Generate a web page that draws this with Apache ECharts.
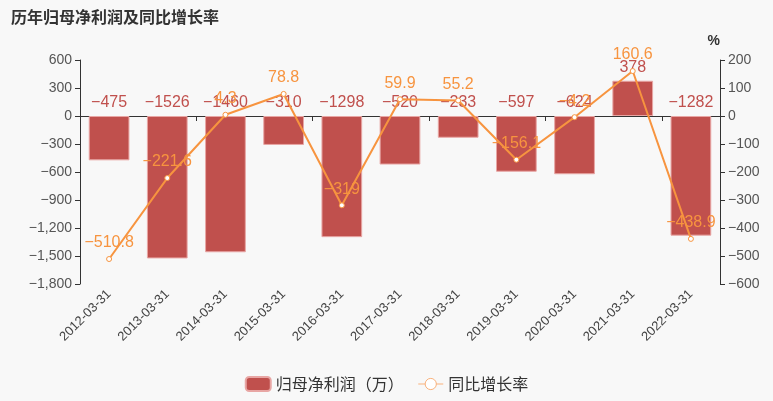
<!DOCTYPE html>
<html>
<head>
<meta charset="utf-8">
<script src="https://cdn.jsdelivr.net/npm/echarts@6/dist/echarts.min.js"></script>
<style>
html, body { margin: 0; padding: 0; background: #f8f8f8; }
#chart { width: 773px; height: 401px; }
</style>
</head>
<body>
<div id="chart"></div>
<script>
var categories = ['2012-03-31', '2013-03-31', '2014-03-31', '2015-03-31', '2016-03-31', '2017-03-31',
		'2018-03-31', '2019-03-31', '2020-03-31', '2021-03-31', '2022-03-31'];
var profitValues = [-475, -1526, -1460, -310, -1298, -520, -233, -597, -624, 378, -1282];
var growthValues = [-510.8, -221.6, 4.3, 78.8, -319, 59.9, 55.2, -156.1, -4.2, 160.6, -438.9];
var leftTicks = { min : -1800, max : 600, interval : 300 };
var rightTicks = { min : -600, max : 200, interval : 100 };

var font = '"Liberation Sans", "Noto Sans CJK SC", sans-serif';

// 负号用 U+2212 显示
function minus(s) {
	return String(s).replace(/-/g, '\u2212');
}
function withCommas(v) {
	return minus(echarts.format.addCommas(v));
}

var option = {
	backgroundColor : '#f8f8f8',
	textStyle : {
		fontFamily : font
	},
	title : {
		text : '历年归母净利润及同比增长率',
		left : 6,
		top : 4,
		textStyle : {
			fontFamily : '"Noto Sans CJK SC", sans-serif',
			fontSize : 16,
			fontWeight : 'bold',
			color : '#333'
		}
	},
	legend : {
		bottom : 4,
		itemWidth : 25,
		itemHeight : 14,
		itemGap : 14,
		textStyle : {
			fontFamily : '"Noto Sans CJK TC", sans-serif',
			fontSize : 16,
			color : '#333'
		},
		data : [ {
			name : '归母净利润（万）',
			icon : 'roundRect'
		}, {
			name : '同比增长率',
			itemStyle : {
				color : '#fff',
				borderColor : '#f9b27c',
				borderWidth : 1
			},
			lineStyle : {
				color : '#f9b27c',
				width : 1
			}
		} ]
	},
	grid : {
		left : 80,
		right : 53,
		top : 60,
		bottom : 117
	},
	xAxis : [ {
		type : 'category',
		data : categories,
		axisLine : {
			show : false
		},
		axisTick : {
			show : false
		},
		axisLabel : {
			rotate : 45,
			interval : 0,
			fontSize : 13,
			color : '#444'
		}
	}, {
		type : 'category',
		data : categories,
		position : 'bottom',
		axisLine : {
			onZero : true,
			lineStyle : {
				color : '#333'
			}
		},
		axisTick : {
			show : true,
			lineStyle : {
				color : '#333'
			}
		},
		axisLabel : {
			show : false
		}
	} ],
	yAxis : [ {
		type : 'value',
		min : leftTicks.min,
		max : leftTicks.max,
		interval : leftTicks.interval,
		axisLine : {
			show : true,
			lineStyle : {
				color : '#333'
			}
		},
		axisTick : {
			show : true
		},
		splitLine : {
			show : false
		},
		axisLabel : {
			fontSize : 14,
			color : '#555',
			formatter : withCommas
		}
	}, {
		type : 'value',
		name : '%',
		nameGap : 12,
		nameTextStyle : {
			fontSize : 14,
			fontWeight : 'bold',
			color : '#333',
			align : 'right'
		},
		min : rightTicks.min,
		max : rightTicks.max,
		interval : rightTicks.interval,
		axisLine : {
			show : true,
			lineStyle : {
				color : '#333'
			}
		},
		axisTick : {
			show : true
		},
		splitLine : {
			show : false
		},
		axisLabel : {
			fontSize : 14,
			color : '#555',
			formatter : withCommas
		}
	} ],
	series : [ {
		name : '归母净利润（万）',
		type : 'bar',
		barWidth : '70%',
		data : profitValues,
		itemStyle : {
			color : '#c0504d',
			borderColor : '#e8a6a4',
			borderWidth : 1
		},
		label : {
			show : true,
			position : 'top',
			fontSize : 16,
			color : '#c0504d',
			formatter : function(p) {
				return minus(p.value);
			}
		}
	}, {
		name : '同比增长率',
		type : 'line',
		yAxisIndex : 1,
		data : growthValues,
		symbol : 'circle',
		symbolSize : 5,
		lineStyle : {
			width : 2,
			color : '#f7943f'
		},
		itemStyle : {
			color : '#fff',
			borderColor : '#f7943f',
			borderWidth : 1
		},
		label : {
			show : true,
			position : 'top',
			fontSize : 16,
			color : '#f7943f',
			formatter : function(p) {
				return minus(p.value);
			}
		}
	} ]
};

var chart = echarts.init(document.getElementById('chart'));
chart.setOption(option);
</script>
</body>
</html>
